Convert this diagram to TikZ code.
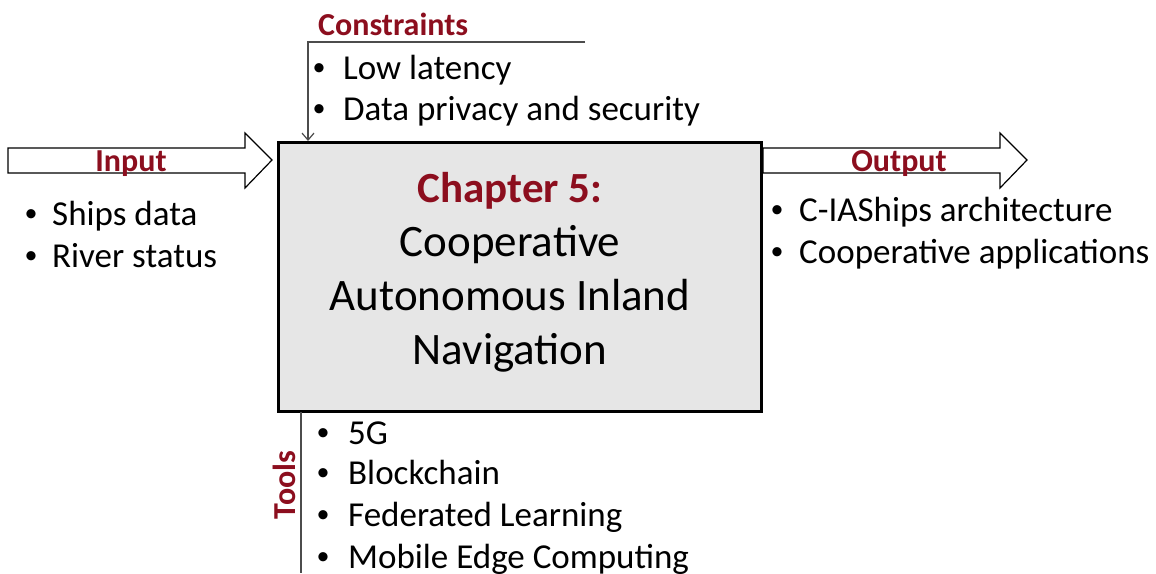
\documentclass[tikz,border=0pt]{standalone}
\usepackage{fontspec}
\setmainfont{Carlito}
\usetikzlibrary{arrows.meta}
\definecolor{dred}{HTML}{8C0E1E}
\definecolor{boxgray}{HTML}{E6E6E6}
\tikzset{
  lbl/.style={font=\fontsize{32}{38}\selectfont\bfseries, text=dred, inner sep=0pt},
  item/.style={font=\fontsize{35}{42}\selectfont, anchor=base west, inner sep=0pt},
  bul/.style={font=\fontsize{26}{30}\selectfont, anchor=base, inner sep=0pt, yshift=4pt},
  mtext/.style={font=\fontsize{45}{54}\selectfont, anchor=base, inner sep=0pt},
  fatarrow/.style={draw=black, line width=1.2pt, fill=white},
  thinline/.style={draw=black!70, line width=1.2pt},
}
\begin{document}
\begin{tikzpicture}[x=1pt,y=-1pt]
\useasboundingbox (0,0) rectangle (1156,573);
% main box
\node[draw=black, line width=3pt, fill=boxgray, minimum width=483pt, minimum height=269pt, anchor=north west, inner sep=0pt] (box) at (277,141) {};
\node[mtext, font=\fontsize{43}{52}\selectfont\bfseries, text=dred] (ch) at (510,202) {Chapter 5:};
\node[mtext] (t1) at (510,256) {Cooperative};
\node[mtext] (t2) at (510,310) {Autonomous Inland};
\node[mtext] (t3) at (510,364) {Navigation};
% input arrow
\draw[fatarrow] (8,148) -- (245,148) -- (245,133) -- (272,160) -- (245,188) -- (245,173) -- (8,173) -- cycle;
\node[lbl, anchor=base] (in) at (131,171) {Input};
\node[bul] (ib1) at (31,225) {•};
\node[item] (i1) at (52,225) {Ships data};
\node[bul] (ib2) at (31,267) {•};
\node[item] (i2) at (52,267) {River status};
% output arrow
\draw[fatarrow] (763,148) -- (1000,148) -- (1000,133) -- (1027,160) -- (1000,188) -- (1000,173) -- (763,173) -- cycle;
\node[lbl, anchor=base] (out) at (899,171) {Output};
\node[bul] (ob1) at (777,221) {•};
\node[item] (o1) at (799,221) {C-IAShips architecture};
\node[bul] (ob2) at (777,263) {•};
\node[item] (o2) at (799,263) {Cooperative applications};
% constraints
\node[lbl, anchor=base west] (con) at (318,35) {Constraints};
\coordinate (cr) at (585,42);
\coordinate (cl) at (308,42);
\draw[thinline, -{Straight Barb[length=7pt,width=12pt]}] (cr) -- (cl) -- (cl |- box.north);
\node[bul] (cb1) at (319,79) {•};
\node[item] (c1) at (343,79) {Low latency};
\node[bul] (cb2) at (319,120) {•};
\node[item] (c2) at (343,120) {Data privacy and security};
% tools
\coordinate (tt) at (301,412);
\coordinate (tb) at (301,573);
\draw[thinline] (tt) -- (tb);
\node[lbl, rotate=90] (tools) at (284,485) {Tools};
\node[bul] (tb1) at (323,444) {•};
\node[item] (to1) at (348,444) {5G};
\node[bul] (tb2) at (323,484) {•};
\node[item] (to2) at (348,484) {Blockchain};
\node[bul] (tb3) at (323,526) {•};
\node[item] (to3) at (348,526) {Federated Learning};
\node[bul] (tb4) at (323,568) {•};
\node[item] (to4) at (348,568) {Mobile Edge Computing};
\end{tikzpicture}
\end{document}
